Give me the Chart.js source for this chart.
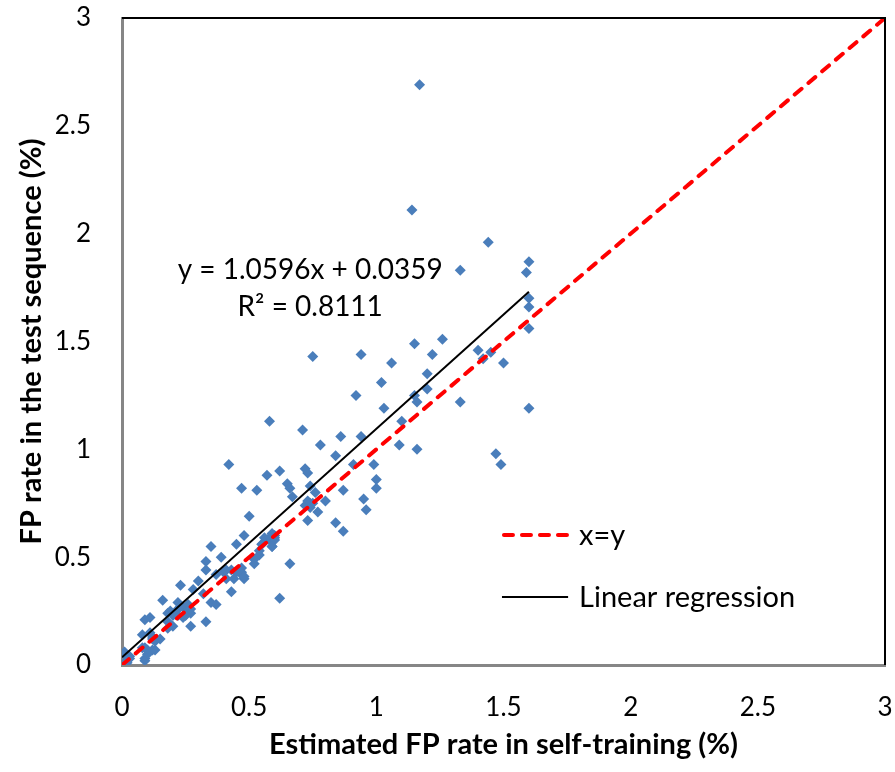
<!DOCTYPE html>
<html>
<head>
<meta charset="utf-8">
<script src="https://cdn.jsdelivr.net/npm/chart.js@4.4.1/dist/chart.umd.min.js"></script>
<style>
  html, body { margin: 0; padding: 0; background: #fff; }
  #wrap { width: 895px; height: 772px; position: relative; }
</style>
</head>
<body>
<div id="wrap"><canvas id="fpChart"></canvas></div>
<script>
// estimated FP rate in self-training (%)
const estFP = [
  0.58, 0.71, 0.86, 0.94, 0.78, 0.84, 0.91, 0.42, 0.57, 0.62,
  0.72, 0.73, 0.65, 0.66, 0.67, 0.47, 0.53, 0.74, 0.76, 0.73,
  0.74, 0.80, 0.77, 0.73, 0.87, 0.95, 0.96, 0.84, 0.87, 0.50,
  0.48, 0.60, 0.58, 0.55, 0.45, 0.59, 0.35, 0.54, 0.39, 0.52,
  0.66, 0.33, 0.33, 0.37, 0.40, 0.41, 0.45, 0.47, 0.48, 0.43,
  0.30, 0.23, 0.28, 0.16, 0.22, 0.24, 0.26, 0.27, 0.25, 0.35,
  0.37, 0.19, 0.22, 0.18, 0.33, 0.27, 0.09, 0.11, 0.08, 0.11,
  0.12, 0.08, 0.13, 0.10, 0.09, 0.01, 0.01, 0.03, 0.02, 0.62,
  0.43, 0.47, 0.56, 0.60,
  1.60, 1.60, 1.15, 1.26, 0.94, 1.22, 1.06, 1.40, 1.42, 1.45,
  1.50, 1.02, 1.20, 1.20, 0.92, 1.15, 1.16, 1.33, 1.03, 1.60,
  1.10, 1.09, 1.16, 1.47, 1.49, 0.99, 1.00, 1.00,
  1.17, 1.14, 1.44, 1.33, 1.60, 1.59, 1.60, 0.75,
  0.32, 0.20, 0.15, 0.18, 0.20, 0.22, 0.12, 0.13, 0.09, 0.12,
  0.10, 0.09, 0.01, 0.02, 0.03, 0.23, 0.26, 0.27, 0.21, 0.24,
  0.18, 0.41, 0.47, 0.48, 0.44, 0.72, 0.74, 0.75, 0.59, 0.58,
  0.60, 0.55, 0.59, 0.54, 0.52
];
// FP rate in the test sequence (%)
const testFP = [
  1.13, 1.09, 1.06, 1.06, 1.02, 0.97, 0.93, 0.93, 0.88, 0.90,
  0.91, 0.89, 0.84, 0.82, 0.78, 0.82, 0.81, 0.83, 0.80, 0.76,
  0.73, 0.76, 0.71, 0.67, 0.81, 0.77, 0.72, 0.66, 0.62, 0.69,
  0.60, 0.60, 0.58, 0.56, 0.56, 0.55, 0.55, 0.51, 0.50, 0.47,
  0.47, 0.48, 0.44, 0.42, 0.43, 0.40, 0.43, 0.45, 0.40, 0.34,
  0.39, 0.37, 0.35, 0.30, 0.29, 0.27, 0.25, 0.24, 0.23, 0.29,
  0.28, 0.25, 0.23, 0.20, 0.20, 0.18, 0.21, 0.22, 0.14, 0.15,
  0.12, 0.08, 0.07, 0.07, 0.03, 0.06, 0.01, 0.03, 0.02, 0.31,
  0.44, 0.42, 0.59, 0.59,
  1.66, 1.56, 1.49, 1.51, 1.44, 1.44, 1.40, 1.46, 1.42, 1.45,
  1.40, 1.31, 1.35, 1.28, 1.25, 1.25, 1.22, 1.22, 1.19, 1.19,
  1.13, 1.02, 1.00, 0.98, 0.93, 0.93, 0.86, 0.82,
  2.69, 2.11, 1.96, 1.83, 1.87, 1.82, 1.70, 1.43,
  0.33, 0.18, 0.12, 0.17, 0.23, 0.26, 0.13, 0.11, 0.08, 0.07,
  0.05, 0.02, 0.05, 0.01, 0.04, 0.27, 0.28, 0.26, 0.24, 0.22,
  0.24, 0.44, 0.43, 0.41, 0.40, 0.74, 0.75, 0.75, 0.61, 0.59,
  0.58, 0.56, 0.55, 0.53, 0.49
];
// reference lines
const identityX = [0, 3];
const identityY = [0, 3];
const regX = [0, 1.6];
const regY = [0.036, 1.731];
const tickLabels = ['0', '0.5', '1', '1.5', '2', '2.5', '3'];
const eqLines = ['y = 1.0596x + 0.0359', 'R\u00b2 = 0.8111'];

const pts = estFP.map((x, i) => ({ x: x, y: testFP[i] }));
const toXY = (xs, ys) => xs.map((x, i) => ({ x: x, y: ys[i] }));
const tickFmt = v => tickLabels[Math.round(v * 2)] ?? '';

const FONT = 'Lato';

const overlay = {
  id: 'overlay',
  afterDatasetsDraw(chart) {
    const { ctx, chartArea: a, scales: { x, y } } = chart;
    ctx.save();
    // top + right frame
    ctx.strokeStyle = '#000';
    ctx.lineWidth = 2;
    ctx.beginPath();
    ctx.moveTo(a.left, a.top);
    ctx.lineTo(a.right, a.top);
    ctx.lineTo(a.right, a.bottom);
    ctx.stroke();

    // regression equation
    ctx.fillStyle = '#000';
    ctx.font = '28px ' + FONT;
    ctx.textAlign = 'center';
    ctx.textBaseline = 'middle';
    ctx.fillText(eqLines[0], x.getPixelForValue(0.74), y.getPixelForValue(1.83));
    ctx.fillText(eqLines[1], x.getPixelForValue(0.74), y.getPixelForValue(1.66));

    // legend
    const items = [chart.data.datasets[0], chart.data.datasets[1]];
    const rows = [0.603, 0.315];
    ctx.font = '29px ' + FONT;
    ctx.textAlign = 'left';
    items.forEach((ds, i) => {
      const ly = y.getPixelForValue(rows[i]);
      const x0 = x.getPixelForValue(1.494), x1 = x.getPixelForValue(1.754);
      ctx.strokeStyle = ds.borderColor;
      ctx.lineWidth = ds.borderWidth;
      ctx.lineCap = ds.borderCapStyle || 'butt';
      ctx.setLineDash(ds.borderDash || []);
      ctx.beginPath();
      ctx.moveTo(x0 + (ds.borderDash ? 2 : 0), ly);
      ctx.lineTo(x1, ly);
      ctx.stroke();
      ctx.setLineDash([]);
      ctx.fillStyle = '#000';
      ctx.fillText(ds.label, x.getPixelForValue(1.797), ly + 1);
    });
    ctx.restore();
  }
};

// invisible tick marks give the gap between axis and labels
const axisGrid = len => ({
  display: true,
  drawOnChartArea: false,
  drawTicks: true,
  tickLength: len,
  tickColor: 'rgba(0,0,0,0)'
});

new Chart(document.getElementById('fpChart'), {
  type: 'scatter',
  data: {
    datasets: [
      {
        type: 'line',
        label: 'x=y',
        data: toXY(identityX, identityY),
        borderColor: '#ff0000',
        borderWidth: 4,
        borderDash: [9, 9],
        borderCapStyle: 'round',
        pointRadius: 0,
        fill: false,
        order: 0
      },
      {
        type: 'line',
        label: 'Linear regression',
        data: toXY(regX, regY),
        borderColor: '#000000',
        borderWidth: 2,
        pointRadius: 0,
        fill: false,
        order: 1
      },
      {
        label: 'FP rate',
        data: pts,
        pointStyle: 'rectRot',
        pointRadius: 5.5,
        pointHoverRadius: 5.5,
        backgroundColor: '#4a7ebb',
        borderColor: '#4a7ebb',
        borderWidth: 0,
        order: 2
      }
    ]
  },
  options: {
    responsive: true,
    maintainAspectRatio: false,
    animation: false,
    devicePixelRatio: 1,
    layout: { padding: { top: 18, right: 10, left: 0, bottom: 0 } },
    plugins: { legend: { display: false }, tooltip: { enabled: false } },
    scales: {
      x: {
        type: 'linear',
        min: 0, max: 3,
        grid: axisGrid(27),
        border: { display: true, color: '#868686', width: 3 },
        ticks: { stepSize: 0.5, padding: 0, color: '#000', font: { family: FONT, size: 26 }, callback: tickFmt },
        title: { display: true, text: 'Estimated FP rate in self-training (%)', color: '#000', font: { family: FONT, size: 29, weight: 'bold' }, padding: { top: 0, bottom: 10 } },
        afterFit: s => { s.height = 107; }
      },
      y: {
        type: 'linear',
        min: 0, max: 3,
        grid: axisGrid(31),
        border: { display: true, color: '#868686', width: 3 },
        ticks: { stepSize: 0.5, padding: 0, color: '#000', font: { family: FONT, size: 26 }, callback: tickFmt },
        title: { display: true, text: 'FP rate in the test sequence (%)', color: '#000', font: { family: FONT, size: 29, weight: 'bold' }, padding: { top: 14, bottom: 0 } },
        afterFit: s => { s.width = 122; }
      }
    }
  },
  plugins: [overlay]
});
</script>
</body>
</html>
